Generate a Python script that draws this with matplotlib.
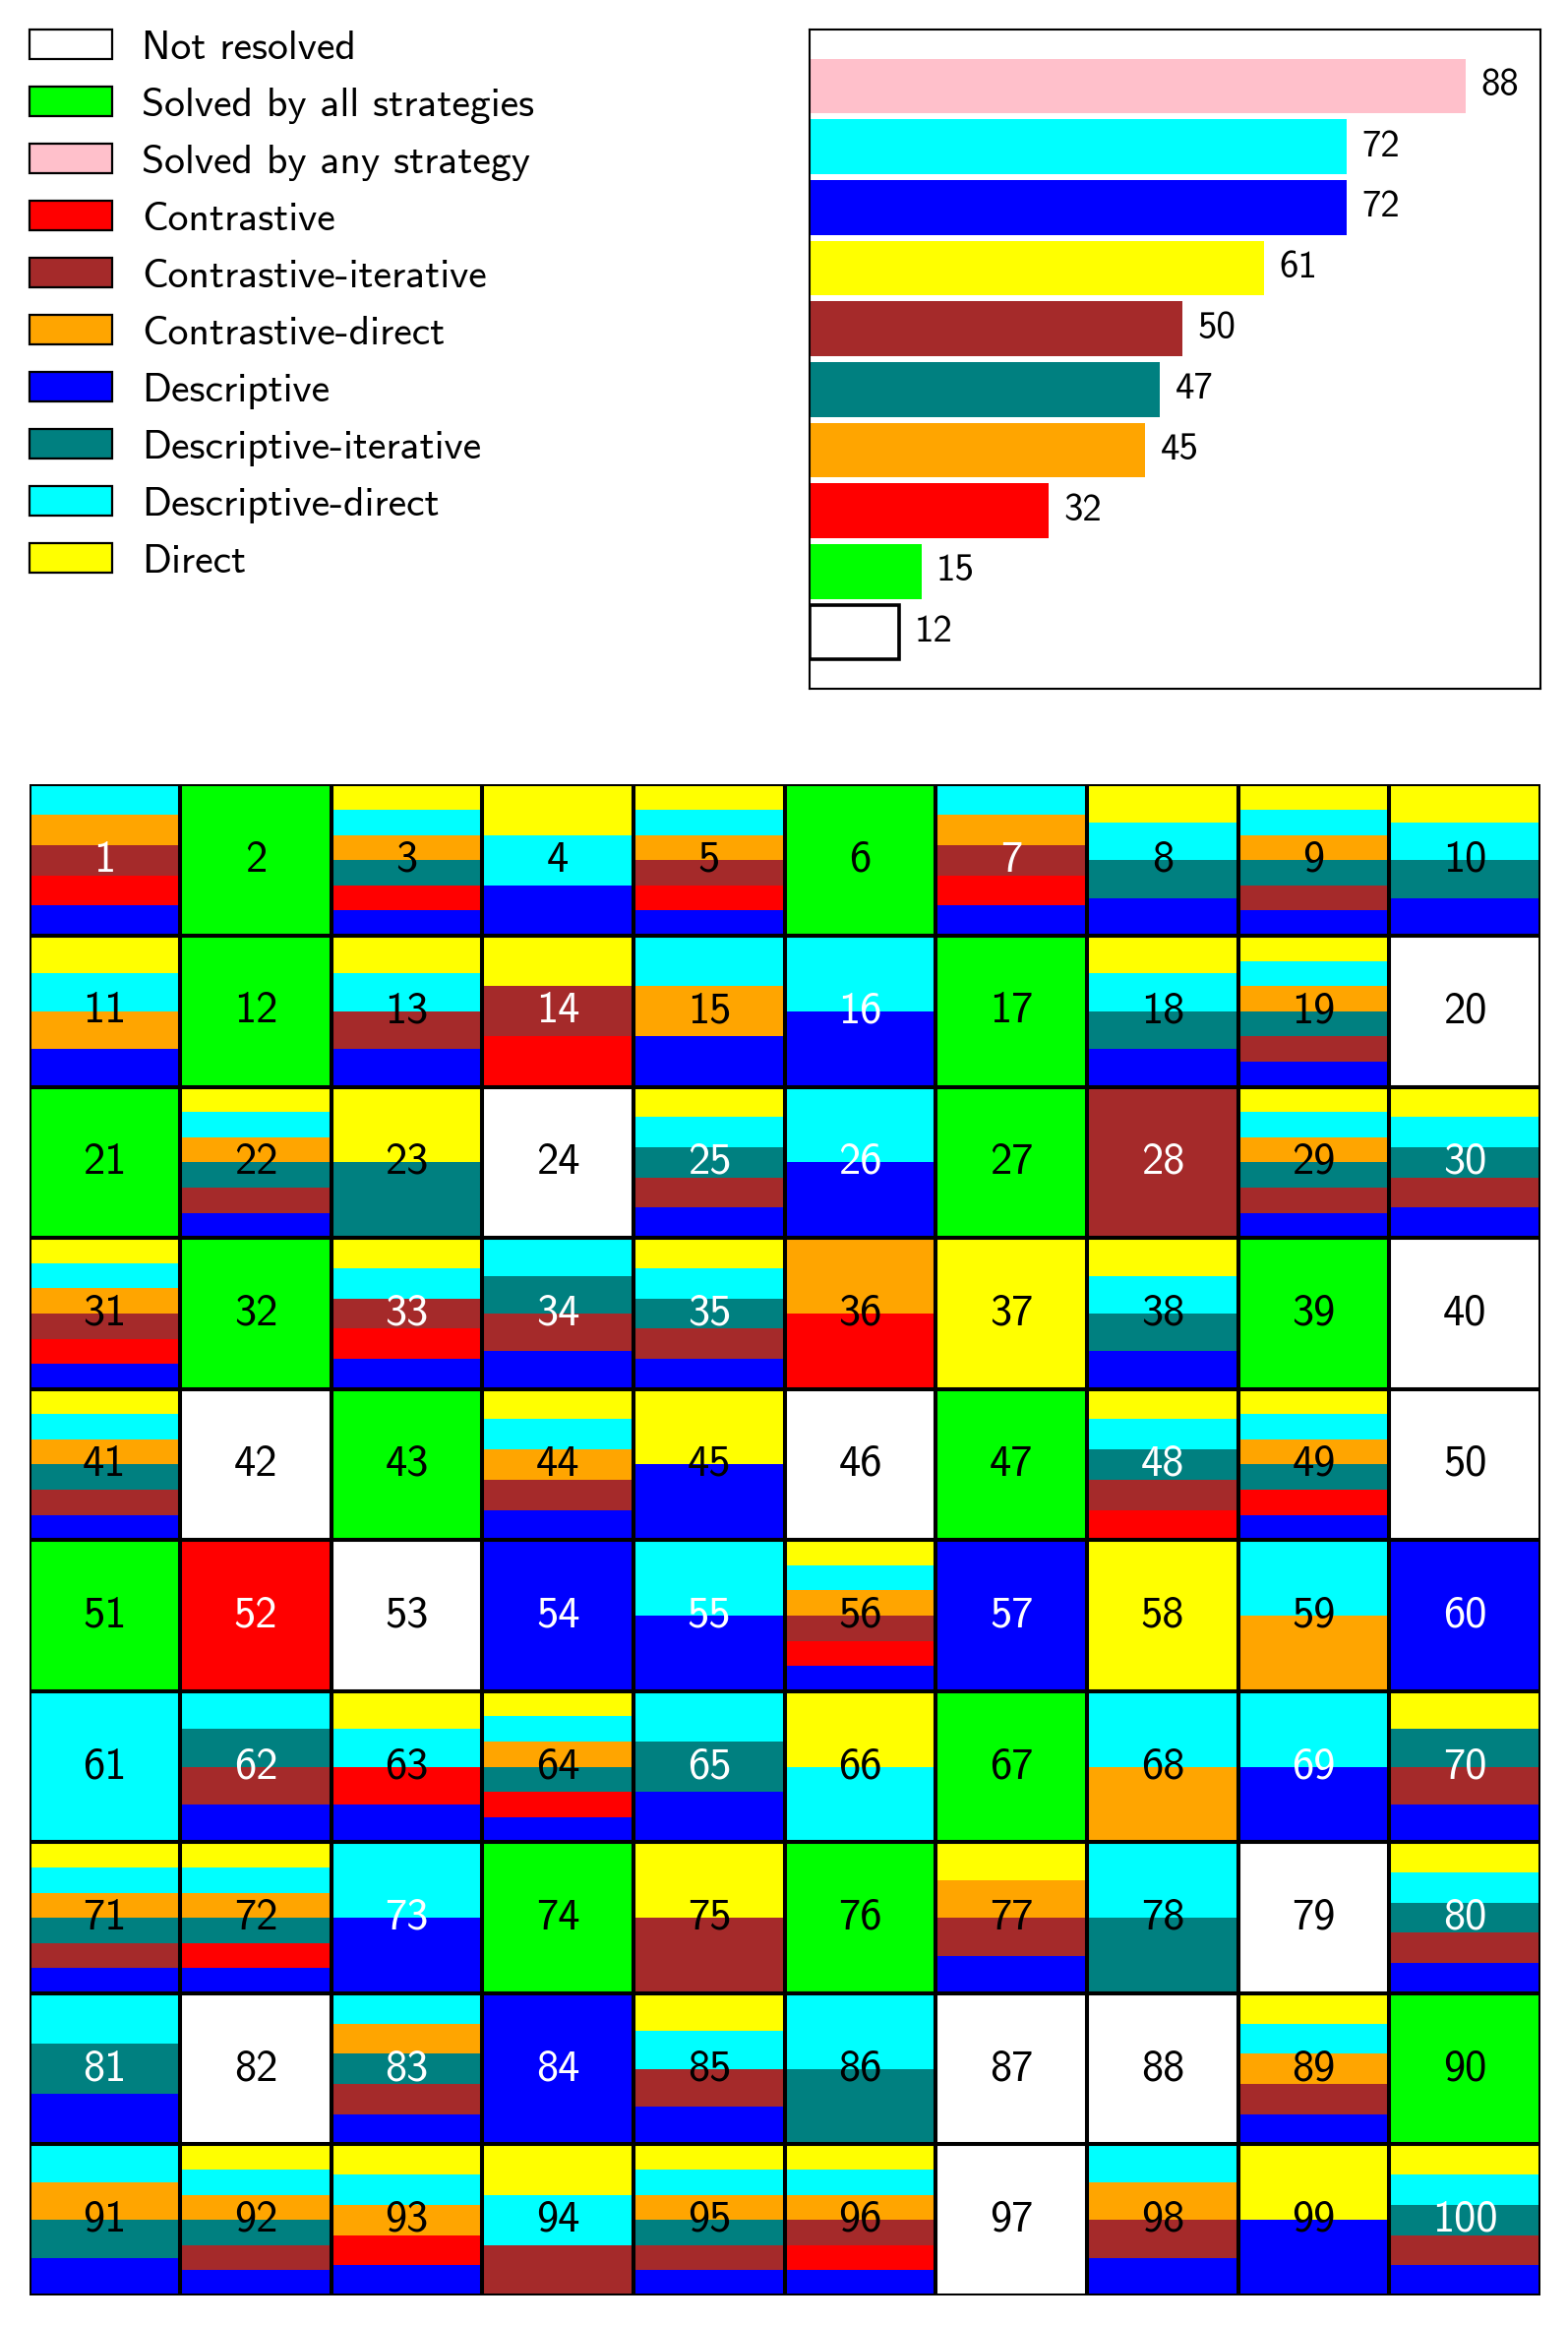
#!/usr/bin/env python3
import matplotlib

matplotlib.use("Agg")
import matplotlib.pyplot as plt
from matplotlib.colors import to_rgb
from matplotlib.patches import Rectangle

plt.rcParams["font.family"] = ["cmss10", "DejaVu Sans"]
plt.rcParams["axes.unicode_minus"] = False

# strategy keys, stacked bottom -> top inside a cell
STRATEGIES = ["d", "c", "ci", "di", "cd", "dd", "dir"]
COLORS = {
    "none": "#ffffff",
    "all": "#00ff00",
    "any": "#ffc0cb",
    "c": "#ff0000",
    "ci": "#a52a2a",
    "cd": "#ffa500",
    "d": "#0000ff",
    "di": "#008080",
    "dd": "#00ffff",
    "dir": "#ffff00",
}

LEGEND_KEYS = ["none", "all", "any", "c", "ci", "cd", "d", "di", "dd", "dir"]
LEGEND_LABELS = [
    "Not resolved", "Solved by all strategies", "Solved by any strategy",
    "Contrastive", "Contrastive-iterative", "Contrastive-direct",
    "Descriptive", "Descriptive-iterative", "Descriptive-direct", "Direct",
]
BAR_ORDER = ["any", "dd", "d", "dir", "ci", "di", "cd", "c", "all", "none"]

# which strategies solved problem 1..100 ("all" = every strategy, "" = none)
SOLVED_BY = [
    "d c ci cd dd", "all", "d c di cd dd dir", "d dd dir", "d c ci cd dd dir",
    "all", "d c ci cd dd", "d di dd dir", "d ci di cd dd dir", "d di dd dir",
    "d cd dd dir", "all", "d ci dd dir", "c ci dir", "d cd dd",
    "d dd", "all", "d di dd dir", "d ci di cd dd dir", "",
    "all", "d ci di cd dd dir", "di dir", "", "d ci di dd dir",
    "d dd", "all", "ci", "d ci di cd dd dir", "d ci di dd dir",
    "d c ci cd dd dir", "all", "d c ci dd dir", "d ci di dd", "d ci di dd dir",
    "c cd", "dir", "d di dd dir", "all", "",
    "d ci di cd dd dir", "", "all", "d ci cd dd dir", "d dir",
    "", "all", "c ci di dd dir", "d c di cd dd dir", "",
    "all", "c", "", "d", "d dd",
    "d c ci cd dd dir", "d", "dir", "cd dd", "d",
    "dd", "d ci di dd", "d c dd dir", "d c di cd dd dir", "d di dd",
    "dd dir", "all", "cd dd", "d dd", "d ci di dir",
    "d ci di cd dd dir", "d c di cd dd dir", "d dd", "all", "ci dir",
    "all", "d ci cd dir", "di dd", "", "d ci di dd dir",
    "d di dd", "", "d ci di cd dd", "d", "d ci dd dir",
    "di dd", "", "", "d ci cd dd dir", "all",
    "d di cd dd", "d ci di cd dd dir", "d c cd dd dir", "ci dd dir", "d ci di cd dd dir",
    "d c ci cd dd dir", "", "d ci cd dd", "d dir", "d ci di dd dir",
]

N_COLS = 10
FONT_LEGEND = 30
FONT_BAR = 28
FONT_CELL = 32


def cell_strategies(entry):
    if entry == "all":
        return list(STRATEGIES)
    return [s for s in STRATEGIES if s in entry.split()]


def cell_colors(entry):
    if entry == "all":
        return [COLORS["all"]]
    if entry == "":
        return [COLORS["none"]]
    return [COLORS[s] for s in cell_strategies(entry)]


def label_color(colors, lo=0.42, hi=0.63):
    # luma of the strip of the cell that sits behind the number
    n = len(colors)
    total = 0.0
    for k, col in enumerate(colors):
        ov = max(0.0, min((k + 1) / n, hi) - max(k / n, lo))
        r, g, b = to_rgb(col)
        total += ov * (0.299 * r + 0.587 * g + 0.114 * b)
    return "white" if total / (hi - lo) < 0.5 else "black"


def counts():
    out = {k: 0 for k in LEGEND_KEYS}
    for entry in SOLVED_BY:
        strats = cell_strategies(entry)
        if entry == "all":
            out["all"] += 1
        if not strats:
            out["none"] += 1
        else:
            out["any"] += 1
        for s in strats:
            out[s] += 1
    return out


def main():
    W, H = 1594, 2363
    fig = plt.figure(figsize=(W / 100, H / 100), dpi=100)

    # legend, laid out in pixel space
    ax_leg = fig.add_axes([0, 0, 1, 1])
    ax_leg.set_xlim(0, W)
    ax_leg.set_ylim(H, 0)
    ax_leg.axis("off")
    for i, (key, label) in enumerate(zip(LEGEND_KEYS, LEGEND_LABELS)):
        top = 30 + 58 * i
        ax_leg.add_patch(Rectangle((30, top), 84, 30, facecolor=COLORS[key],
                                   edgecolor="black", linewidth=1.6))
        ax_leg.text(144, top + 30, label, fontsize=FONT_LEGEND, va="baseline", ha="left")

    # bar panel
    cnt = counts()
    values = [cnt[k] for k in BAR_ORDER]
    ax_bar = fig.add_axes([823 / W, 1 - 700 / H, (1566 - 823) / W, 670 / H])
    bars = ax_bar.barh(range(len(BAR_ORDER)), values, height=0.9,
                       color=[COLORS[k] for k in BAR_ORDER], linewidth=0)
    bars[-1].set_edgecolor("black")
    bars[-1].set_linewidth(2.6)
    ax_bar.bar_label(bars, labels=[str(v) for v in values], padding=11, fontsize=FONT_BAR)
    ax_bar.set_xlim(0, 98)
    ax_bar.set_ylim(len(BAR_ORDER) - 1 + 0.93, -0.93)
    ax_bar.set_xticks([])
    ax_bar.set_yticks([])
    for sp in ax_bar.spines.values():
        sp.set_linewidth(1.5)

    # problem grid
    ax_grid = fig.add_axes([29.5 / W, 1 - 2333 / H, (1566 - 29.5) / W, (2333 - 797.5) / H])
    n_rows = len(SOLVED_BY) // N_COLS
    for idx, entry in enumerate(SOLVED_BY):
        row, col = divmod(idx, N_COLS)
        y0 = n_rows - 1 - row
        colors = cell_colors(entry)
        n = len(colors)
        ax_grid.bar([col] * n, [1 / n] * n, bottom=[y0 + k / n for k in range(n)],
                    width=1, align="edge", color=colors, linewidth=0)
        ax_grid.add_patch(Rectangle((col, y0), 1, 1, facecolor="none",
                                    edgecolor="black", linewidth=2.9, zorder=3))
        ax_grid.text(col + 0.5, y0 + 0.5, str(idx + 1), ha="center", va="center",
                     fontsize=FONT_CELL, color=label_color(colors), zorder=4)
    ax_grid.set_xlim(0, N_COLS)
    ax_grid.set_ylim(0, n_rows)
    ax_grid.axis("off")

    fig.savefig("out.png", dpi=100)
    plt.close(fig)


if __name__ == "__main__":
    main()
